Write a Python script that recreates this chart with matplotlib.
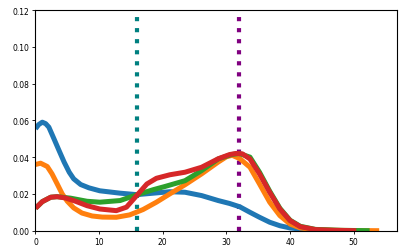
import matplotlib
matplotlib.use("Agg")
import matplotlib.pyplot as plt

# Series (x, density)
blue_x = [0, 0.5, 1.07, 1.6, 2.1, 2.9, 3.7, 4.5, 5.3, 6.0, 7.1, 8.4, 10.1, 13.3, 15.9, 18.5, 21.1, 23.5, 26.1, 28.7, 30.5, 32.1, 33.7, 35.2, 36.8, 38.4, 40, 41.6, 44, 47]
blue_y = [0.0554, 0.0577, 0.0590, 0.0582, 0.0563, 0.0500, 0.0436, 0.0373, 0.0318, 0.0282, 0.0251, 0.0233, 0.0217, 0.0204, 0.0196, 0.0204, 0.0212, 0.0209, 0.0191, 0.0164, 0.0148, 0.0130, 0.0100, 0.0073, 0.0046, 0.0027, 0.0015, 0.0009, 0.0003, 0.0]

orange_x = [0, 0.8, 1.85, 2.6, 3.4, 4.2, 5.0, 6.0, 7.3, 8.9, 10.5, 12.7, 14.8, 16.9, 19.0, 21.1, 23.5, 26.1, 28.7, 30.0, 30.9, 32.1, 33.7, 35.2, 36.8, 38.4, 40, 41.6, 44, 47, 50, 54]
orange_y = [0.0360, 0.0367, 0.0349, 0.0309, 0.0255, 0.0200, 0.0160, 0.0124, 0.0096, 0.0080, 0.0074, 0.0073, 0.0086, 0.0115, 0.0155, 0.0200, 0.0250, 0.0309, 0.0373, 0.0402, 0.0410, 0.0392, 0.0345, 0.0254, 0.0155, 0.0082, 0.0036, 0.0015, 0.0005, 0.0002, 0.0001, 0.0]

green_x = [0, 1.07, 2.4, 3.4, 5.5, 8.1, 10.1, 13.3, 15.9, 18.5, 20.3, 23.5, 26.1, 28.7, 30.8, 32.0, 33.7, 35.2, 36.8, 38.4, 40, 41.6, 44, 48, 52.5]
green_y = [0.0122, 0.0158, 0.0182, 0.0185, 0.0177, 0.0160, 0.0155, 0.0164, 0.0195, 0.0223, 0.0240, 0.0272, 0.0327, 0.0390, 0.0414, 0.0420, 0.0400, 0.0318, 0.0215, 0.0122, 0.0057, 0.0024, 0.0007, 0.0002, 0.0]

red_x = [0, 1.07, 2.4, 3.4, 4.7, 6.3, 8.1, 10.1, 12.7, 14.3, 15.9, 17.5, 19.0, 21.1, 23.5, 26.1, 28.7, 30.5, 31.5, 32.5, 33.7, 35.2, 36.8, 38.4, 40, 41.6, 44, 47, 50.4]
red_y = [0.0122, 0.0158, 0.0182, 0.0185, 0.0178, 0.0160, 0.0136, 0.0118, 0.0109, 0.0128, 0.0191, 0.0254, 0.0285, 0.0304, 0.0318, 0.0345, 0.0391, 0.0414, 0.0420, 0.0418, 0.0390, 0.0309, 0.0209, 0.0118, 0.0055, 0.0022, 0.0006, 0.0002, 0.0]

vline_teal = 16
vline_purple = 32

x_ticks = [0, 10, 20, 30, 40, 50]
y_ticks = [0.00, 0.02, 0.04, 0.06, 0.08, 0.10, 0.12]

fig = plt.figure(figsize=(4.07, 2.53), dpi=100)
ax = fig.add_axes([0.0872, 0.0842, 0.8882, 0.8723])

ax.axvline(vline_teal, color="#008080", linestyle=":", linewidth=3, zorder=1)
ax.axvline(vline_purple, color="#800080", linestyle=":", linewidth=3, zorder=1)

lw = 3.6
for xs, ys, c in [(blue_x, blue_y, "#1f77b4"), (orange_x, orange_y, "#ff7f0e"),
                  (green_x, green_y, "#2ca02c"), (red_x, red_y, "#d62728")]:
    ax.plot(xs, ys, color=c, linewidth=lw, solid_joinstyle="round", solid_capstyle="butt", zorder=2)

ax.set_xlim(0, 56.8)
ax.set_ylim(0, 0.12)
ax.set_xticks(x_ticks)
ax.set_yticks(y_ticks)
ax.set_yticklabels([f"{v:.2f}" for v in y_ticks])
ax.tick_params(labelsize=5.5, length=2.5, width=0.6, pad=2)
for s in ax.spines.values():
    s.set_linewidth(0.8)

fig.savefig("out.png", dpi=100)
